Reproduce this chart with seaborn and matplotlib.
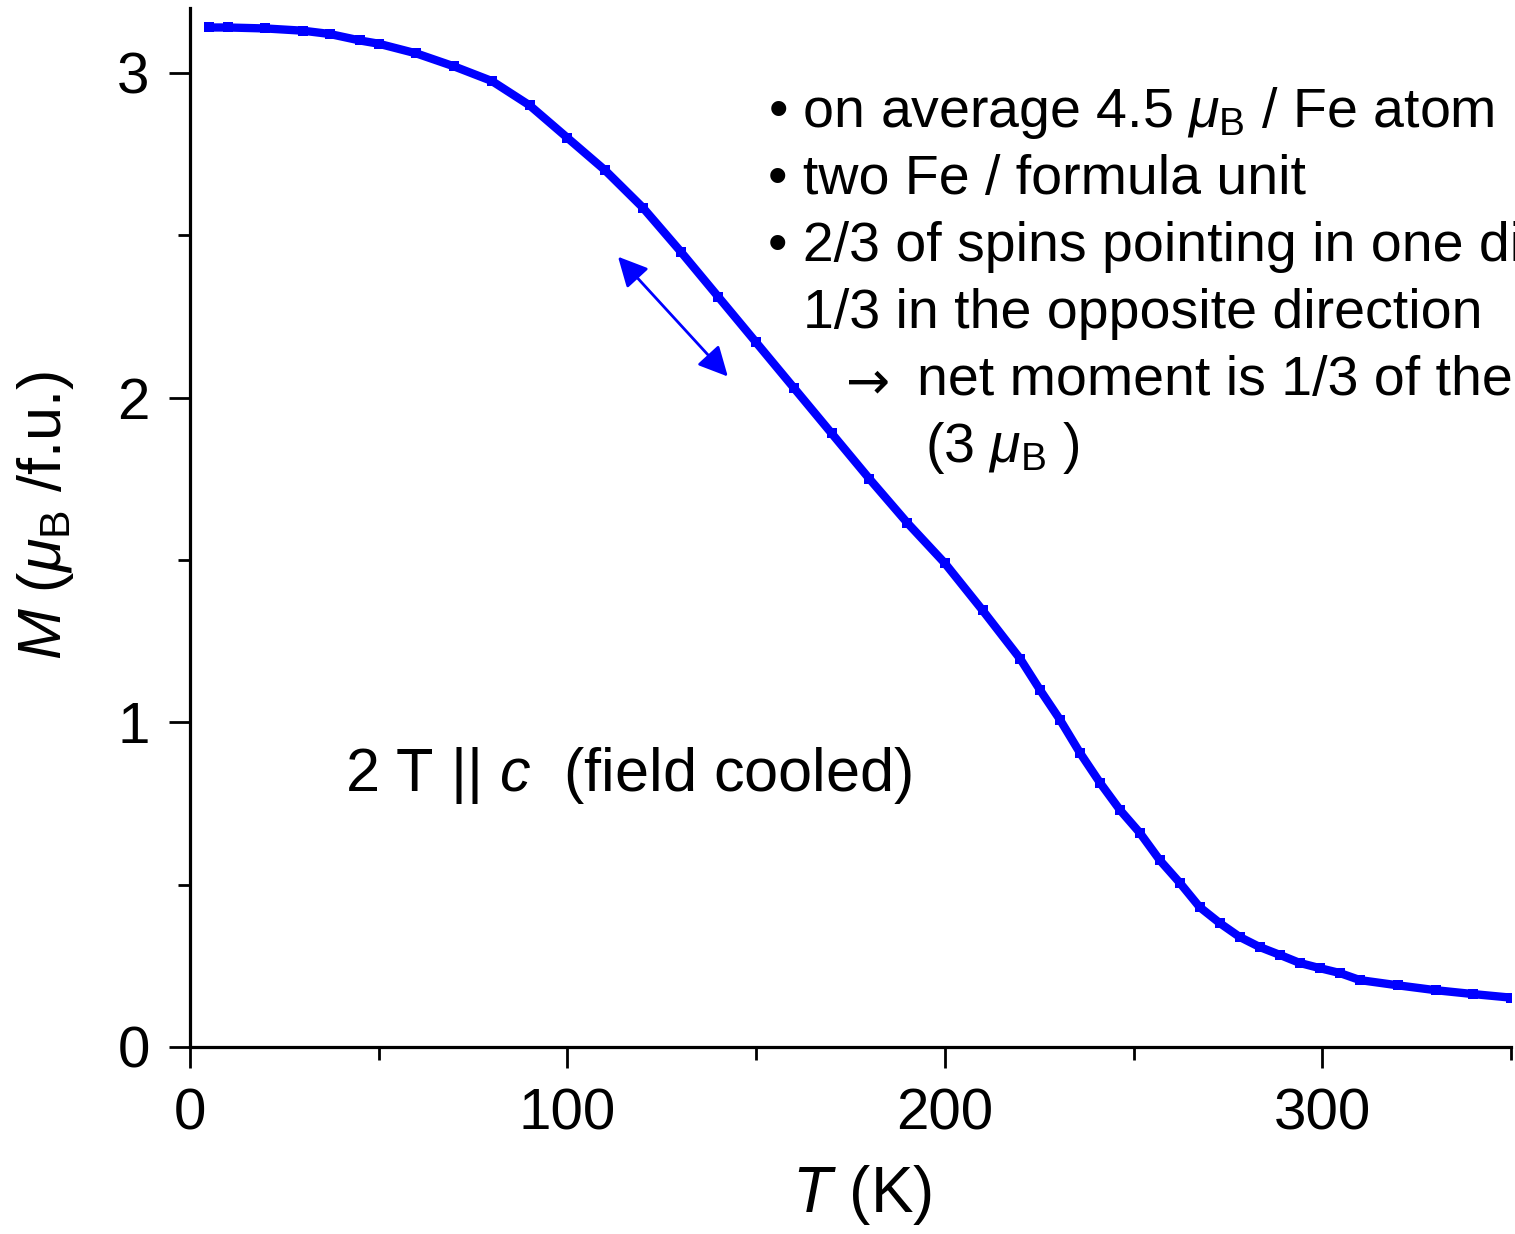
import numpy as np
import pandas as pd
import matplotlib
matplotlib.use("Agg")
import matplotlib.pyplot as plt
import seaborn as sns
from matplotlib.ticker import MultipleLocator

# ---- data ----
T_K = [5, 10, 20, 30, 37, 45, 50, 60, 70, 80, 90, 100, 110, 120, 130, 140,
       150, 160, 170, 180, 190, 200, 210, 220, 225.2, 230.5, 235.8, 241.1,
       246.4, 251.7, 256.9, 262.3, 267.5, 272.8, 278.1, 283.4, 288.7, 294,
       299.3, 304.6, 310, 320, 330, 340, 350]
M_muB = [3.14, 3.14, 3.137, 3.13, 3.12, 3.10, 3.09, 3.06, 3.02, 2.975, 2.90,
         2.80, 2.70, 2.585, 2.45, 2.31, 2.17, 2.03, 1.89, 1.75, 1.615, 1.49,
         1.345, 1.195, 1.100, 1.008, 0.906, 0.814, 0.730, 0.659, 0.576,
         0.505, 0.431, 0.382, 0.339, 0.308, 0.284, 0.259, 0.243, 0.228,
         0.206, 0.19, 0.175, 0.163, 0.152]
x_ticks = [0, 100, 200, 300]
y_ticks = [0, 1, 2, 3]

df = pd.DataFrame({"T": T_K, "M": M_muB})

sns.set_style("ticks")
plt.rcParams["font.family"] = ["Liberation Sans", "DejaVu Sans"]
plt.rcParams["mathtext.fontset"] = "custom"
plt.rcParams["mathtext.rm"] = "Liberation Sans"
plt.rcParams["mathtext.it"] = "Liberation Sans:italic"
plt.rcParams["mathtext.bf"] = "Liberation Sans:bold"
plt.rcParams["text.color"] = "black"
plt.rcParams["xtick.color"] = "black"
plt.rcParams["ytick.color"] = "black"
plt.rcParams["axes.labelcolor"] = "black"

W, H = 1515, 1234
fig = plt.figure(figsize=(W / 100, H / 100), dpi=100)
ax = fig.add_axes([190 / W, 1 - 1047 / H, (1511 - 190) / W, (1047 - 8) / H])

sns.lineplot(data=df, x="T", y="M", ax=ax, color="#0000ff", lw=6,
             marker="s", markersize=7, markeredgewidth=0)

ax.set_xlim(0, 350)
ax.set_ylim(0, 3.2)
ax.set_xticks(x_ticks)
ax.set_yticks(y_ticks)
ax.xaxis.set_minor_locator(MultipleLocator(50))
ax.yaxis.set_minor_locator(MultipleLocator(0.5))
ax.tick_params(which="major", length=15, width=2, labelsize=42, pad=14,
               direction="out", color="black", labelcolor="black")
ax.tick_params(which="minor", length=9, width=2, direction="out", color="black")
sns.despine(ax=ax)
for s in ["left", "bottom"]:
    ax.spines[s].set_linewidth(2.3)
    ax.spines[s].set_color("black")
ax.set_xlabel("")
ax.set_ylabel("")

fig.text(862 / W, 1 - 1195 / H, r"$T$ (K)", fontsize=46, ha="center", va="center")
fig.text(45 / W, 1 - 515 / H, r"$M$ ($\mu_\mathrm{B}$ /f.u.)", fontsize=44,
         ha="center", va="center", rotation=90)

fs = 40
lines = [
    (768, 113, r"• on average 4.5 $\mu_\mathrm{B}$ / Fe atom"),
    (768, 180, "• two Fe / formula unit"),
    (768, 247, "• 2/3 of spins pointing in one direction"),
    (803, 314, "1/3 in the opposite direction"),
    (917, 381, "net moment is 1/3 of the"),
    (925, 448, r"(3 $\mu_\mathrm{B}$ )"),
]
for x, y, s in lines:
    fig.text(x / W, 1 - y / H, s, fontsize=fs, ha="left", va="center")
fig.text(846 / W, 1 - 383 / H, "→", fontsize=38, family=["DejaVu Sans"],
         ha="left", va="center")

fig.text(345 / W, 1 - 775 / H, r"2 T || $c$  (field cooled)", fontsize=44,
         ha="left", va="center")

ax.annotate("", xy=(113.4, 2.434), xytext=(142.5, 2.065),
            arrowprops=dict(arrowstyle="<|-|>", color="#0000ff", lw=2,
                            mutation_scale=45, shrinkA=0, shrinkB=0))

fig.savefig("out.png", dpi=100)
